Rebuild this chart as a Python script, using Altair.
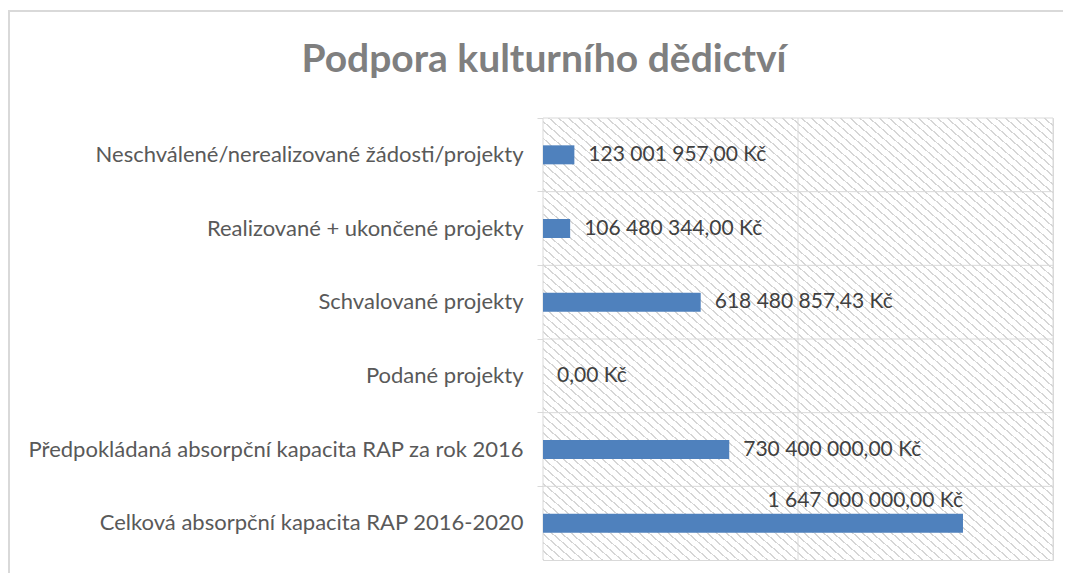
import altair as alt
import pandas as pd

categories = [
    "Neschválené/nerealizované žádosti/projekty",
    "Realizované + ukončené projekty",
    "Schvalované projekty",
    "Podané projekty",
    "Předpokládaná absorpční kapacita RAP za rok 2016",
    "Celková absorpční kapacita RAP 2016-2020",
]
values = [123001957.00, 106480344.00, 618480857.43, 0.00, 730400000.00, 1647000000.00]
x_ticks = [0, 1000000000, 2000000000]
title_text = "Podpora kulturního dědictví"


def czk(v):
    return f"{v:,.2f}".replace(",", " ").replace(".", ",") + " Kč"


df = pd.DataFrame({"cat": categories, "value": values, "label": [czk(v) for v in values]})
df["last"] = [c == categories[-1] for c in categories]
df["title"] = title_text
ticks_df = pd.DataFrame({"tick": x_ticks})

W, H = 510, 442
FONT = "Lato"
GRID = "#d9d9d9"

# diagonal hatching as a repeating linear gradient (style only)
N = 105
stops = []
for i in range(N):
    a = i / N
    b = (i + 0.2) / N
    c = (i + 1) / N
    stops += [
        {"offset": a, "color": "#d6d6d6"},
        {"offset": b, "color": "#d6d6d6"},
        {"offset": b, "color": "#ffffff"},
        {"offset": c, "color": "#ffffff"},
    ]
hatch = {"gradient": "linear", "x1": 0, "y1": 1, "x2": 1, "y2": 0, "stops": stops}

x_scale = alt.Scale(domain=[0, 2000000000], nice=False)
y_scale = alt.Scale(paddingInner=0, paddingOuter=0)

y_enc = alt.Y(
    "cat:N",
    sort=categories,
    title=None,
    scale=y_scale,
    axis=alt.Axis(
        labelFont=FONT,
        labelFontSize=22,
        labelColor="#595959",
        labelPadding=14,
        grid=False,
        bandPosition=0,
        ticks=True,
        tickColor=GRID,
        tickSize=6,
        domain=True,
        domainColor=GRID,
        labelLimit=600,
    ),
)
x_enc = alt.X(
    "value:Q",
    title=None,
    scale=x_scale,
    axis=alt.Axis(values=x_ticks, labels=False, ticks=False, domain=False, grid=False),
)

base = alt.Chart(df)
one = base.transform_filter("datum.last")

background = one.mark_rect(color=hatch).encode(
    x=alt.value(0), x2=alt.value(W), y=alt.value(0), y2=alt.value(H)
)

vgrid = alt.Chart(ticks_df).mark_rule(color=GRID, strokeWidth=1).encode(
    x=alt.X("tick:Q", scale=x_scale)
)

hgrid = base.mark_rule(color=GRID, strokeWidth=1).encode(
    y=alt.Y("cat:N", sort=categories, bandPosition=0)
)

bars = base.mark_bar(color="#4f81bd", size=19).encode(x=x_enc, y=y_enc)

labels = base.transform_filter("!datum.last").mark_text(
    align="left", baseline="middle", dx=14, font=FONT, fontSize=21, color="#404040"
).encode(x="value:Q", y=alt.Y("cat:N", sort=categories), text="label:N")

label_last = one.mark_text(
    align="right", baseline="bottom", dy=-12, font=FONT, fontSize=21, color="#404040"
).encode(x="value:Q", y=alt.Y("cat:N", sort=categories), text="label:N")

border = one.mark_rect(
    fill="transparent", stroke=GRID, strokeWidth=2, clip=False
).encode(
    x=alt.value(-534), x2=alt.value(W + 30), y=alt.value(-107), y2=alt.value(H + 40)
)

title = one.mark_text(
    align="center", baseline="alphabetic", font=FONT, fontSize=39, fontWeight="bold", color="#7f7f7f"
).encode(x=alt.value(1), y=alt.value(-46), text="title:N")

chart = (
    alt.layer(border, background, vgrid, hgrid, bars, labels, label_last, title)
    .properties(
        width=W,
        height=H,
        autosize=alt.AutoSizeParams(type="none"),
        padding={"left": 535, "top": 110, "right": 10, "bottom": 13},
    )
    .configure_view(stroke=GRID)
)

chart.save("out.html", embed_options={"renderer": "svg", "actions": False})
